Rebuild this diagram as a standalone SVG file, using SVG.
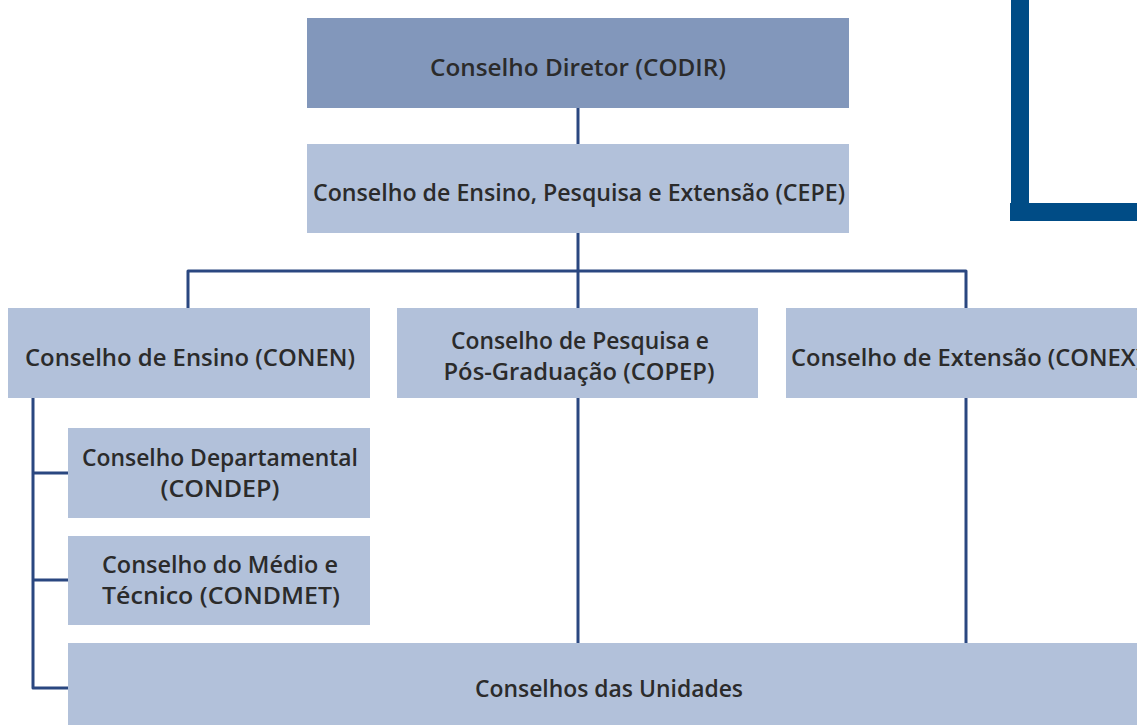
<svg xmlns="http://www.w3.org/2000/svg" width="1137" height="725" viewBox="0 0 1137 725">
<style>
.box{fill:#b2c1da;}
.top{fill:#8297bb;}
.t{font-family:"Open Sans","Liberation Sans",sans-serif;font-size:24px;font-weight:600;fill:#2b2b2b;text-anchor:middle;}
.c{stroke:#2a4780;stroke-width:3;fill:none;stroke-linejoin:round;}
.deco{fill:#004c86;}
</style>
<rect width="1137" height="725" fill="#ffffff"/>
<g id="decoration">
<rect class="deco" x="1011" y="0" width="18" height="221"/>
<rect class="deco" x="1010" y="203" width="127" height="18"/>
</g>
<g id="connectors">
<path class="c" d="M578 108V144"/>
<path class="c" d="M578 233V308"/>
<path class="c" d="M188 308V271H966V308"/>
<path class="c" d="M33 398V688H68"/>
<path class="c" d="M33 473H68"/>
<path class="c" d="M33 580H68"/>
<path class="c" d="M578 398V643"/>
<path class="c" d="M966 398V643"/>
</g>
<g id="codir">
<rect class="top" x="307" y="18" width="542" height="90"/>
<text class="t" x="578" y="76" textLength="296" lengthAdjust="spacingAndGlyphs">Conselho Diretor (CODIR)</text>
</g>
<g id="cepe">
<rect class="box" x="307" y="144" width="542" height="89"/>
<text class="t" x="579" y="201" textLength="532" lengthAdjust="spacingAndGlyphs">Conselho de Ensino, Pesquisa e Extensão (CEPE)</text>
</g>
<g id="conen">
<rect class="box" x="8" y="308" width="362" height="90"/>
<text class="t" x="190" y="366" textLength="330" lengthAdjust="spacingAndGlyphs">Conselho de Ensino (CONEN)</text>
</g>
<g id="copep">
<rect class="box" x="397" y="308" width="361" height="90"/>
<text class="t" x="580" y="349" textLength="258" lengthAdjust="spacingAndGlyphs">Conselho de Pesquisa e</text>
<text class="t" x="579" y="380" textLength="271" lengthAdjust="spacingAndGlyphs">Pós-Graduação (COPEP)</text>
</g>
<g id="conex">
<rect class="box" x="786" y="308" width="362" height="90"/>
<text class="t" x="967" y="366" textLength="352" lengthAdjust="spacingAndGlyphs">Conselho de Extensão (CONEX)</text>
</g>
<g id="condep">
<rect class="box" x="68" y="428" width="302" height="90"/>
<text class="t" x="220" y="466" textLength="276" lengthAdjust="spacingAndGlyphs">Conselho Departamental</text>
<text class="t" x="220" y="497" textLength="119" lengthAdjust="spacingAndGlyphs">(CONDEP)</text>
</g>
<g id="condmet">
<rect class="box" x="68" y="536" width="302" height="89"/>
<text class="t" x="220" y="573" textLength="236" lengthAdjust="spacingAndGlyphs">Conselho do Médio e</text>
<text class="t" x="221" y="604" textLength="238" lengthAdjust="spacingAndGlyphs">Técnico (CONDMET)</text>
</g>
<g id="unidades">
<rect class="box" x="68" y="643" width="1069" height="82"/>
<text class="t" x="609" y="697" textLength="268" lengthAdjust="spacingAndGlyphs">Conselhos das Unidades</text>
</g>
</svg>
